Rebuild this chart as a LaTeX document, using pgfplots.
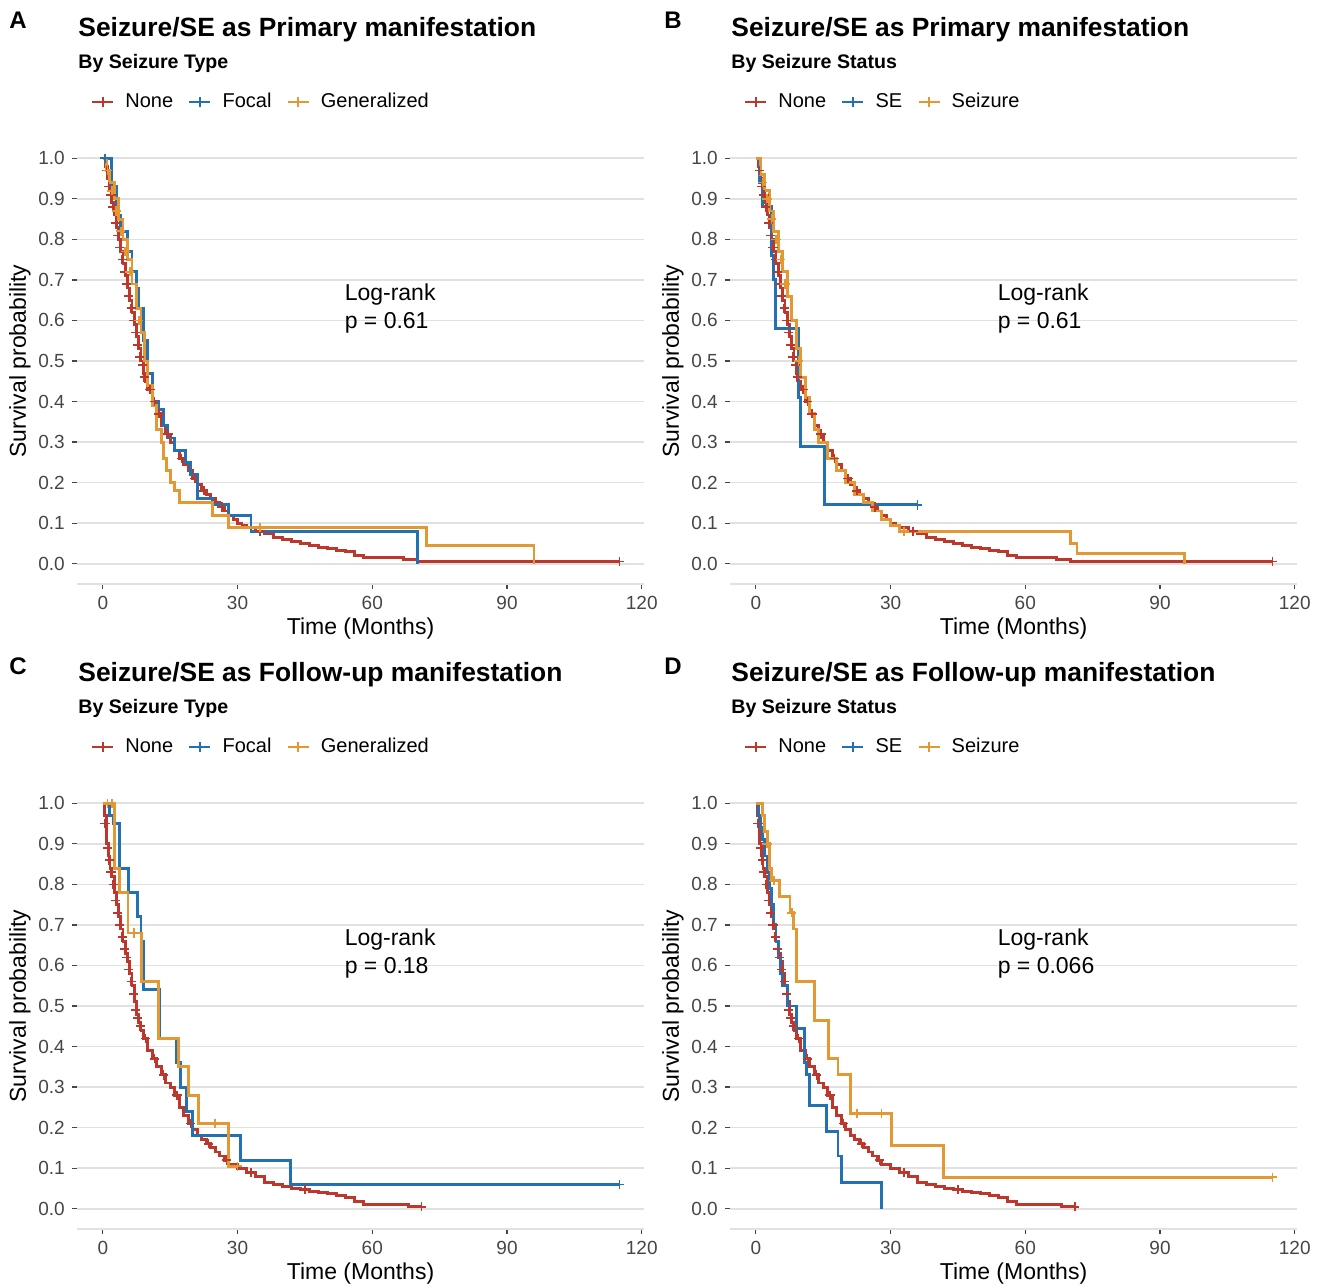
\documentclass[border=0pt]{standalone}
\usepackage{fontspec}
\setmainfont{Liberation Sans}
\usepackage{pgfplots}
\usepackage{pgfplotstable}
\pgfplotsset{compat=1.18}

\definecolor{kmred}{RGB}{190,55,44}
\definecolor{kmblue}{RGB}{34,113,178}
\definecolor{kmorange}{RGB}{228,152,52}
\definecolor{ticktxt}{RGB}{70,70,70}
\definecolor{gridc}{RGB}{225,225,225}

% ---- Kaplan-Meier step data (time in months, survival) ----
% primary manifestation, group None (same in A and B)
\pgfplotstableread{
t s
0 1.00
0.5 0.98
1 0.95
1.5 0.92
2 0.89
2.5 0.86
3 0.83
3.5 0.80
4 0.77
4.5 0.74
5 0.71
5.5 0.68
6 0.65
6.5 0.62
7 0.59
7.5 0.56
8 0.53
8.5 0.50
9 0.47
9.5 0.45
10 0.43
11 0.40
12 0.37
13 0.34
14 0.32
15 0.30
16 0.28
17 0.26
18 0.245
19 0.23
20 0.21
21 0.195
22 0.18
23 0.17
24 0.16
25 0.15
26 0.14
27 0.13
28 0.12
29 0.11
30 0.10
31 0.095
32 0.09
34 0.08
36 0.075
38 0.065
40 0.06
42 0.055
44 0.05
46 0.045
48 0.04
50 0.037
52 0.033
54 0.03
56 0.02
58 0.015
67 0.01
70 0.005
115 0.005
}\primnone
\pgfplotstableread{
t s
0.8 0.97
1.3 0.93
1.8 0.91
2.2 0.88
2.8 0.84
3.3 0.81
3.8 0.78
4.3 0.75
4.8 0.72
5.3 0.69
5.8 0.66
6.3 0.63
6.8 0.60
7.3 0.57
7.8 0.54
8.2 0.51
8.8 0.49
9.2 0.46
10.5 0.43
11.5 0.40
12.5 0.37
14.5 0.32
17.5 0.26
20.5 0.21
22.5 0.18
26.5 0.14
35 0.08
115 0.005
}\primnonec

% A: Focal
\pgfplotstableread{
t s
0 1.00
2 0.93
3 0.86
4 0.82
5.5 0.77
6.5 0.72
7.5 0.68
8 0.63
9 0.55
10 0.47
11 0.40
12.5 0.38
13.5 0.34
14.5 0.31
16 0.28
18.5 0.25
19.5 0.22
21 0.16
24.5 0.145
28 0.12
33 0.08
70 0.0
}\Afocal
% A: Generalized
\pgfplotstableread{
t s
0 1.00
0.8 0.97
1.5 0.94
2.5 0.90
3.5 0.85
4.5 0.80
5.5 0.75
6.5 0.69
7.5 0.63
8.5 0.57
9.2 0.50
10 0.44
11 0.39
12 0.33
13 0.30
13.5 0.26
14.2 0.23
15 0.20
16 0.18
17 0.15
24.5 0.12
28 0.09
72 0.045
96 0.0
}\Agen
\pgfplotstableread{
t s
1 0.97
2 0.92
3 0.87
4 0.82
5 0.77
6 0.72
8 0.60
35 0.09
}\Agenc

% B: SE
\pgfplotstableread{
t s
0 1.00
0.8 0.94
1.5 0.88
3.5 0.76
3.9 0.70
4.3 0.58
9.5 0.41
10 0.29
15.3 0.145
36 0.145
}\Bse
% B: Seizure
\pgfplotstableread{
t s
0 1.00
1 0.96
2 0.92
3 0.87
4 0.82
5 0.77
6 0.72
7 0.66
8 0.60
9 0.53
10 0.46
11 0.41
12 0.37
13 0.33
14 0.30
16 0.26
18 0.23
20 0.20
22 0.17
24 0.15
26 0.13
28 0.11
30 0.095
32 0.08
70 0.05
71.5 0.025
95.5 0.0
}\Bsz
\pgfplotstableread{
t s
1.5 0.94
2.5 0.90
3.5 0.85
4.5 0.80
5.5 0.75
6.5 0.69
9.5 0.50
33 0.08
}\Bszc

% follow-up manifestation, group None (same in C and D)
\pgfplotstableread{
t s
0 1.00
0.3 0.97
0.8 0.90
1.2 0.87
1.6 0.84
2 0.82
2.5 0.78
3 0.75
3.5 0.72
4 0.69
4.5 0.66
5 0.63
5.5 0.61
6 0.58
6.5 0.55
7 0.51
7.5 0.48
8 0.46
8.5 0.44
9 0.42
10 0.39
11 0.37
12 0.35
13 0.33
14 0.31
15 0.30
16 0.28
17 0.25
18 0.23
19 0.21
20 0.195
21 0.18
22 0.17
23 0.16
24 0.15
25 0.14
26 0.13
27 0.12
28 0.11
30 0.10
32 0.09
34 0.08
36 0.065
38 0.06
40 0.055
42 0.05
44 0.047
46 0.043
48 0.04
50 0.037
52 0.033
54 0.028
56 0.018
58 0.01
68 0.005
71 0.005
}\follnone
\pgfplotstableread{
t s
0.5 0.95
1 0.89
1.4 0.86
1.8 0.83
2.3 0.80
2.8 0.76
3.3 0.73
3.8 0.70
4.3 0.67
4.8 0.64
5.3 0.62
5.8 0.59
6.3 0.56
6.8 0.53
7.3 0.49
7.8 0.47
8.3 0.45
9.5 0.42
11.5 0.37
13.5 0.33
16.5 0.28
19.5 0.21
23.5 0.16
27.5 0.12
33 0.09
45 0.047
71 0.005
}\follnonec

% C: Focal
\pgfplotstableread{
t s
0 1.00
1.5 0.97
2.3 0.95
3.8 0.84
5.7 0.78
7.8 0.72
8.5 0.66
9 0.54
12.7 0.42
16.5 0.36
17.3 0.30
18.7 0.24
20 0.18
30.6 0.12
41.7 0.06
115 0.06
}\Cfocal
% C: Generalized
\pgfplotstableread{
t s
0 1.00
2.7 0.84
3.8 0.78
5.6 0.68
8.6 0.56
12.3 0.42
16.8 0.35
19 0.28
21.3 0.21
28 0.105
30 0.105
}\Cgen
\pgfplotstableread{
t s
1 1.00
2 1.00
7 0.68
25 0.21
30 0.105
}\Cgenc

% D: SE
\pgfplotstableread{
t s
0 1.00
0.5 0.97
1 0.94
1.5 0.91
2 0.87
2.5 0.83
3 0.79
3.5 0.75
4 0.70
4.5 0.66
5 0.62
5.5 0.58
6 0.55
7 0.50
9 0.445
10.9 0.36
11.3 0.33
12 0.255
15.7 0.19
18.3 0.13
19.1 0.065
28 0.0
}\Dse
% D: Seizure
\pgfplotstableread{
t s
0 1.00
1.5 0.97
2 0.93
2.5 0.90
3 0.84
3.5 0.81
5.3 0.77
7.6 0.73
8.3 0.69
9 0.56
13.1 0.465
16.1 0.37
18.3 0.33
21 0.235
30.2 0.155
41.7 0.078
115 0.078
}\Dsz
\pgfplotstableread{
t s
2.5 0.90
4 0.81
8 0.73
22.5 0.235
28 0.235
115 0.078
}\Dszc

\pgfplotsset{
  km/.style={
    scale only axis, width=283.5pt, height=223pt,
    xmin=-5.75, xmax=120.5, ymin=-0.05, ymax=1.05,
    xtick={0,30,60,90,120},
    ytick={0,0.1,0.2,0.3,0.4,0.5,0.6,0.7,0.8,0.9,1},
    /pgf/number format/assume math mode=true,
    yticklabel style={/pgf/number format/.cd, fixed, fixed zerofill, precision=1},
    ticklabel style={font=\fontsize{9.5}{11}\selectfont, text=ticktxt},
    axis x line*=bottom, axis y line*=left,
    x axis line style={draw=gridc, line width=0.8pt, -},
    y axis line style={draw=none},
    tick align=outside, major tick length=2.6pt,
    tick style={color=ticktxt, line width=0.6pt},
    ymajorgrids, grid style={gridc, line width=0.8pt},
    xlabel={Time (Months)}, ylabel={Survival probability},
    label style={font=\fontsize{11.5}{13}\selectfont},
    xlabel style={at={(axis description cs:0.5,-0.099)}, anchor=center},
    ylabel style={at={(axis description cs:-0.1005,0.5)}, anchor=center},
    clip=false,
    legend style={at={(axis description cs:0.024,1.081)}, anchor=west,
      draw=none, fill=none, inner sep=0pt,
      font=\fontsize{10}{12}\selectfont,
      /tikz/every odd column/.append style={column sep=3.5pt},
      /tikz/every even column/.append style={column sep=5.5pt}},
    legend columns=-1,
    legend image code/.code={
      \draw[##1,line width=1.2pt] (0pt,0pt)--(10.5pt,0pt);
      \draw[##1,line width=1pt] (5.25pt,-2.4pt)--(5.25pt,2.4pt);},
  },
  curve/.style={const plot, line width=1.45pt, #1, no marks},
  cens/.style={only marks, mark=+, mark size=2.3pt, #1, mark options={line width=0.8pt}, forget plot},
}

\newcommand{\lognode}[1]{%
  \node[anchor=base west, font=\fontsize{11.5}{13}\selectfont] at (axis cs:52.3,0.65) {Log-rank};
  \node[anchor=base west, font=\fontsize{11.5}{13}\selectfont] at (axis cs:52.3,0.58) {p = #1};}

\begin{document}
\begin{tikzpicture}
\path[use as bounding box] (0,0) rectangle (661pt,643pt);

% ---------------- A ----------------
\begin{axis}[km, at={(38.5pt,351pt)}, anchor=south west]
\addplot[curve=kmred] table {\primnone}; \addlegendentry{None}
\addplot[curve=kmblue] table {\Afocal}; \addlegendentry{Focal}
\addplot[curve=kmorange] table {\Agen}; \addlegendentry{Generalized}
\addplot[cens=kmred] table {\primnonec};
\addplot[cens=kmorange] table {\Agenc};
\addplot[cens=kmblue] table {
t s
0.5 1.0
};
\lognode{0.61}
\end{axis}

% ---------------- B ----------------
\begin{axis}[km, at={(365pt,351pt)}, anchor=south west]
\addplot[curve=kmred] table {\primnone}; \addlegendentry{None}
\addplot[curve=kmblue] table {\Bse}; \addlegendentry{SE}
\addplot[curve=kmorange] table {\Bsz}; \addlegendentry{Seizure}
\addplot[cens=kmred] table {\primnonec};
\addplot[cens=kmorange] table {\Bszc};
\addplot[cens=kmblue] table {
t s
36 0.145
};
\lognode{0.61}
\end{axis}

% ---------------- C ----------------
\begin{axis}[km, at={(38.5pt,28.5pt)}, anchor=south west]
\addplot[curve=kmred] table {\follnone}; \addlegendentry{None}
\addplot[curve=kmblue] table {\Cfocal}; \addlegendentry{Focal}
\addplot[curve=kmorange] table {\Cgen}; \addlegendentry{Generalized}
\addplot[cens=kmred] table {\follnonec};
\addplot[cens=kmorange] table {\Cgenc};
\addplot[cens=kmblue] table {
t s
115 0.06
};
\lognode{0.18}
\end{axis}

% ---------------- D ----------------
\begin{axis}[km, at={(365pt,28.5pt)}, anchor=south west]
\addplot[curve=kmred] table {\follnone}; \addlegendentry{None}
\addplot[curve=kmblue] table {\Dse}; \addlegendentry{SE}
\addplot[curve=kmorange] table {\Dsz}; \addlegendentry{Seizure}
\addplot[cens=kmred] table {\follnonec};
\addplot[cens=kmorange] table {\Dszc};
\lognode{0.066}
\end{axis}

% titles
\begin{scope}[every node/.style={inner sep=0pt}]
\node[anchor=center, font=\fontsize{12}{14}\selectfont\bfseries] at (9pt,633pt) {A};
\node[anchor=center, font=\fontsize{12}{14}\selectfont\bfseries] at (336.5pt,633pt) {B};
\node[anchor=center, font=\fontsize{12}{14}\selectfont\bfseries] at (9pt,310pt) {C};
\node[anchor=center, font=\fontsize{12}{14}\selectfont\bfseries] at (336.5pt,310pt) {D};
\node[anchor=base west, font=\fontsize{13.2}{15}\selectfont\bfseries] at (39pt,624.5pt) {Seizure/SE as Primary manifestation};
\node[anchor=base west, font=\fontsize{9.8}{12}\selectfont\bfseries] at (39pt,608.5pt) {By Seizure Type};
\node[anchor=base west, font=\fontsize{13.2}{15}\selectfont\bfseries] at (365.5pt,624.5pt) {Seizure/SE as Primary manifestation};
\node[anchor=base west, font=\fontsize{9.8}{12}\selectfont\bfseries] at (365.5pt,608.5pt) {By Seizure Status};
\node[anchor=base west, font=\fontsize{13.2}{15}\selectfont\bfseries] at (39pt,302pt) {Seizure/SE as Follow-up manifestation};
\node[anchor=base west, font=\fontsize{9.8}{12}\selectfont\bfseries] at (39pt,286pt) {By Seizure Type};
\node[anchor=base west, font=\fontsize{13.2}{15}\selectfont\bfseries] at (365.5pt,302pt) {Seizure/SE as Follow-up manifestation};
\node[anchor=base west, font=\fontsize{9.8}{12}\selectfont\bfseries] at (365.5pt,286pt) {By Seizure Status};
\end{scope}
\end{tikzpicture}
\end{document}
